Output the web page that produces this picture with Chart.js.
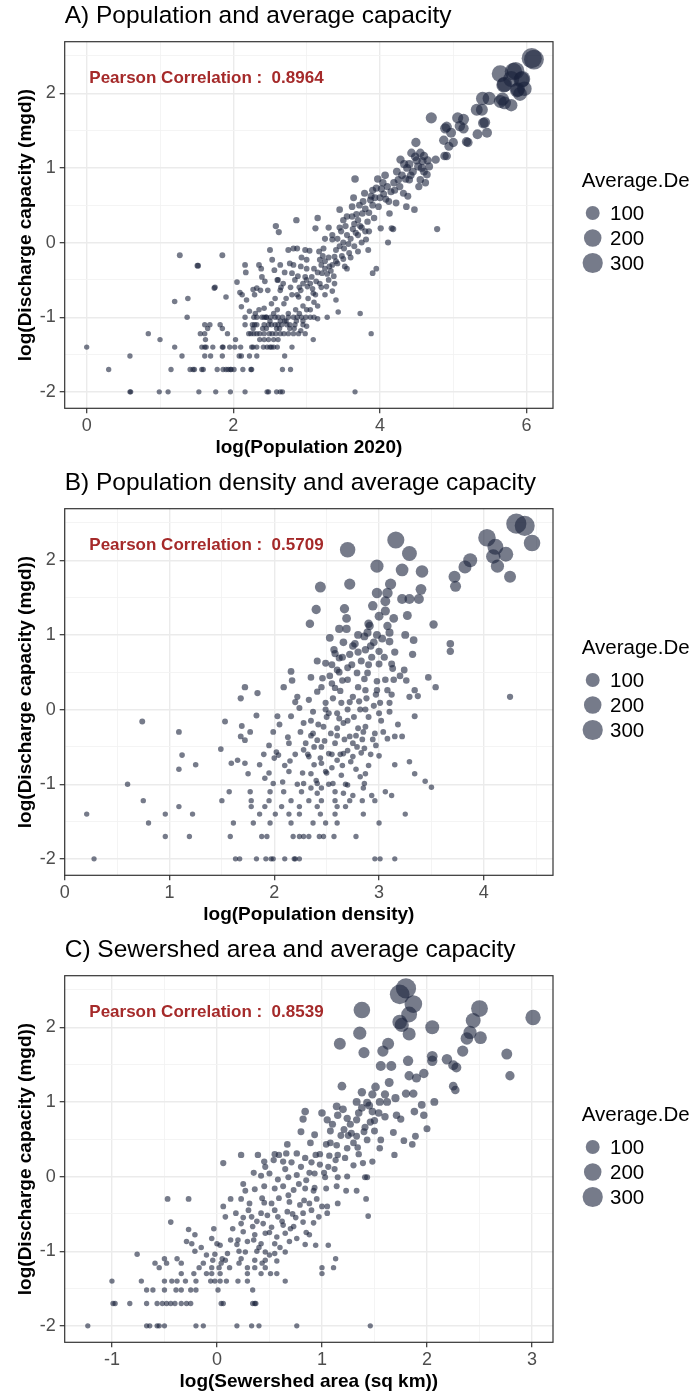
<!DOCTYPE html>
<html>
<head>
<meta charset="utf-8">
<script src="https://cdn.jsdelivr.net/npm/chart.js@4.4.1/dist/chart.umd.min.js"></script>
<style>
  html, body { margin: 0; padding: 0; background: #fff; overflow: hidden; }
  .panel { position: absolute; left: 0; width: 691px; height: 467px; }
</style>
</head>
<body>
<div class="panel" style="top:0"><canvas id="chartA" width="691" height="467"></canvas></div>
<div class="panel" style="top:467px"><canvas id="chartB" width="691" height="467"></canvas></div>
<div class="panel" style="top:934px"><canvas id="chartC" width="691" height="467"></canvas></div>
<script>
// --- Axis ticks, labels ---
const yTicks = [-2, -1, 0, 1, 2];
const yGrid = [-2, -1.5, -1, -0.5, 0, 0.5, 1, 1.5, 2, 2.5];
const popTicks = [0, 2, 4, 6];
const popGrid = [0, 1, 2, 3, 4, 5, 6];
const densTicks = [0, 1, 2, 3, 4];
const densGrid = [0, 0.5, 1, 1.5, 2, 2.5, 3, 3.5, 4, 4.5];
const areaTicks = [-1, 0, 1, 2, 3];
const areaGrid = [-1, -0.5, 0, 0.5, 1, 1.5, 2, 2.5, 3];
const legendValues = [100, 200, 300];
const correlations = [0.8964, 0.5709, 0.8539];
const panelTitles = [
  "A) Population and average capacity",
  "B) Population density and average capacity",
  "C) Sewershed area and average capacity"
];
const xTitles = ["log(Population 2020)", "log(Population density)", "log(Sewershed area (sq km))"];
const yTitle = "log(Discharge capacity (mgd))";

// --- Points: [x, log(Discharge capacity)] ---
const popData = [
  [0.59,-2],[0.6,-2],[0.99,-2],[1.11,-2],[1.53,-2],[1.76,-2],[1.96,-2],[2.16,-2],[2.46,-2],[2.48,-2],[2.59,-2],[2.64,-2],[2.67,-2],[3.66,-2],
  [0.3,-1.7],[1.15,-1.7],[1.41,-1.7],[1.45,-1.7],[1.47,-1.7],[1.57,-1.7],[1.59,-1.7],[1.78,-1.7],[1.86,-1.7],[1.9,-1.7],[1.93,-1.7],[1.96,-1.7],[1.97,-1.7],[2.01,-1.7],[2.13,-1.7],[2.24,-1.7],[2.25,-1.7],[2.67,-1.7],[2.78,-1.7],
  [0.59,-1.52],[1.3,-1.52],[1.61,-1.52],[1.69,-1.52],[1.85,-1.52],[2.08,-1.52],[2.11,-1.52],[2.22,-1.52],[2.32,-1.52],[2.7,-1.52],
  [0,-1.4],[1.2,-1.4],[1.57,-1.4],[1.61,-1.4],[1.63,-1.4],[1.72,-1.4],[1.85,-1.4],[1.86,-1.4],[1.95,-1.4],[2.02,-1.4],[2.1,-1.4],[2.25,-1.4],[2.27,-1.4],[2.32,-1.4],[2.41,-1.4],[2.46,-1.4],[2.5,-1.4],[2.52,-1.4],[2.55,-1.4],[2.6,-1.4],[2.8,-1.4],
  [1,-1.3],[1.62,-1.3],[2.03,-1.3],[2.36,-1.3],[2.42,-1.3],[2.48,-1.3],[2.55,-1.3],[2.61,-1.3],[3.09,-1.3],
  [0.84,-1.22],[1.55,-1.22],[1.61,-1.22],[1.92,-1.22],[2.21,-1.22],[2.24,-1.22],[2.28,-1.22],[2.32,-1.22],[2.36,-1.22],[2.42,-1.22],[2.49,-1.22],[2.53,-1.22],[2.58,-1.22],[2.64,-1.22],[2.69,-1.22],[2.75,-1.22],[2.82,-1.22],[2.89,-1.22],[2.98,-1.22],[3.88,-1.22],
  [1.65,-1.15],[1.85,-1.15],[2.27,-1.15],[2.4,-1.15],[2.45,-1.15],[2.59,-1.15],[2.63,-1.15],[2.77,-1.15],[2.83,-1.15],
  [1.61,-1.1],[1.68,-1.1],[1.82,-1.1],[2.16,-1.1],[2.26,-1.1],[2.29,-1.1],[2.32,-1.1],[2.42,-1.1],[2.48,-1.1],[2.52,-1.1],[2.57,-1.1],[2.61,-1.1],[2.66,-1.1],[2.73,-1.1],[2.77,-1.1],[2.84,-1.1],
  [2.5,-1.05],[2.64,-1.05],[2.72,-1.05],[2.86,-1.05],[2.95,-1.05],
  [1.37,-1],[2.16,-1],[2.28,-1],[2.32,-1],[2.39,-1],[2.42,-1],[2.45,-1],[2.51,-1],[2.57,-1],[2.61,-1],[2.67,-1],[2.75,-1],[2.82,-1],[2.87,-1],[2.93,-1],[2.99,-1],[3.1,-1],[3.28,-1],
  [1.38,-0.75],[1.2,-0.79],[1.27,-0.17],[1.51,-0.31],[1.52,-0.31],[1.85,-0.17],[1.75,-0.6],[1.74,-0.61],[1.9,-0.73],[2.05,-0.53],[2.11,-0.86],[2.09,-0.67],[2.12,-0.7],[2.16,-0.3],[2.17,-0.4],[2.18,-0.77],[2.29,-0.7],[2.27,-0.63],[2.32,-0.61],[2.35,-0.3],[2.38,-0.35],[2.37,-0.64],[2.39,-0.46],[2.43,-0.52],[2.47,-0.64],[2.5,-0.1],[2.53,-0.23],[2.58,0.22],[2.62,0.14],[2.86,0.3],[2.64,-0.3],[2.56,-0.37],[2.61,-0.5],[2.64,-0.64],[2.57,-0.75],[2.65,-0.6],[2.69,-0.82],[2.75,-0.1],[2.82,-0.08],[2.87,-0.08],[2.77,-0.28],[2.8,-0.41],[2.84,-0.5],[2.87,-0.7],[2.89,-0.73],[2.92,-0.64],[2.98,-0.1],[3,-0.23],
  [2.92,-0.32],[2.98,-0.46],[3.01,-0.59],[3.04,-0.11],[3.07,-0.46],[3.09,-0.68],[3.12,0.19],[3.15,0.33],[3.18,-0.23],[3.21,-0.41],[3.23,-0.08],[3.27,-0.59],[3.31,-0.32],[3.35,0.04],[3.38,-0.19],[3.4,-0.77],[3.43,-0.93],[3.45,0.44],[3.47,0.15],[3.51,-0.08],[3.52,-0.32],[3.55,0.35],[3.58,-0.14],[3.62,0.48],[3.64,0.6],[3.66,0.85],[3.67,0.13],[3.7,-0.12],[3.73,-0.95],[3.73,0.22],[3.76,0.39],[3.79,0.66],[3.81,0.04],[3.84,-0.1],[3.87,0.57],[3.9,-0.41],[3.95,-0.35],[3.92,0.33],[3.95,0.73],[3.98,0.48],[4.01,0.19],[4.04,0.8],[4.08,0.58],[4.11,0],[4.13,0.39],[4.16,0.19],[4.18,0.18],[4.19,0.8],[4.22,0.53],[4.25,0.84],[4.28,1.11],[4.32,0.66],[4.36,0.48],[4.37,1],[4.4,0.84],[4.43,1.2],[4.47,0.44],[4.49,1.34],[4.52,1.02],[4.55,0.84],[4.58,1.09],[4.6,1.16],[4.62,0.8],[4.64,0.91],[4.67,1.02],[4.7,1.67],[4.76,1.11],[4.78,0.18],
  [2.95,-0.55],[3,-0.5],[3.05,-0.55],[3.1,-0.35],[3.15,-0.4],[3.2,-0.3],[3.25,-0.25],[3.3,-0.2],[3.35,-0.3],[3.4,-0.1],[3.45,-0.05],[3.5,0],[3.55,0.1],[3.6,0.05],[3.65,0.25],[3.7,0.3],[3.75,0.2],[3.8,0.45],[3.85,0.4],[3.9,0.5],[3.1,-0.8],[3.15,-0.85],[3.2,-0.6],[3.3,-0.5],[3.35,-0.65],[2.9,-0.95],[2.85,-0.9],[2.95,-1.1],[3,-0.9],[3.05,-1],[2.75,-0.95],[2.7,-1.05],[3.25,-0.35],[3.4,-0.25],[3.55,-0.35],[3.6,-0.2],[3.45,0.2],[3.65,-0.05],[3.7,0.1],[3.8,0.15],[3.9,0.7],[4,0.6],[4.05,0.65],[4.1,0.75],[4.2,0.7],[4.3,0.9],[4.35,0.85],[4.45,0.95],[4.5,1.1],[4.6,0.95],[4.65,1.1],[4.55,1.2],[4.4,1.05],[3.5,0.3],[3.35,0.1],[3.25,0.05],[2.6,-0.5],[2.7,-0.4],[2.8,-0.7],[2.55,-0.95],[2.45,-1],[2.35,-0.9],[2.6,-0.9],
  [3.02,-0.75],[3.08,-0.62],[3.13,-0.52],[3.17,-0.12],[3.22,-0.18],[3.28,-0.42],[3.33,-0.38],[3.37,-0.45],[3.42,-0.28],[3.48,-0.18],[3.53,0.22],[3.57,-0.02],[3.63,0.18],[3.68,0.38],[3.72,0.5],[3.77,0.55],[3.83,0.28],[3.88,0.62],[3.93,0.6],[3.97,0.85],[4.02,0.72],[4.07,0.9],[4.12,0.55],[4.15,0.68],[4.23,0.95],[4.27,0.75],[4.33,1.05],[4.38,0.62],[4.42,0.9],[4.48,1.15],[4.53,0.75],[4.57,1],[2.9,-0.6],[2.95,-0.85],[3.05,-0.9],[3.12,-0.7],[3.18,-0.55],[3.25,-0.7],[2.88,-0.45],[2.93,-0.2],[2.82,-0.3],[2.78,-0.6],[2.72,-0.75],[2.68,-0.55],[3,-0.35],[3.3,0.2],[3.42,0.05],[3.5,-0.22],[3.62,0.35],[3.75,0],[3.85,0.15],[2.52,-0.82],[2.42,-0.88],[2.3,-0.95],[2.22,-0.92],[3.38,-0.55],[3.15,-1.02],[3,-1.12],[2.92,-1.18],
  [4.91,1.16],[4.91,1.55],[4.94,1.29],[4.97,1.47],[5,1.34],[5.06,1.67],[5.09,1.56],[5.14,1.65],[5.2,1.34],[5.33,1.45],[5.32,1.78],[5.4,1.93],[5.43,1.61],[5.46,1.47],[5.49,1.93],[4.88,1.16],[4.87,1.37],[4.89,1.53],[5.14,1.53],[5.39,1.78],[5.41,1.6],[5.18,1.35],
  [5.67,1.92],[5.7,1.87],[5.79,1.84],[5.64,1.89],[5.64,2.26],[5.7,2.12],[5.69,2.11],[5.79,2.19],[5.82,2.29],[5.85,2.3],[5.87,2.04],[5.88,2.05],[5.91,1.99],[5.94,2.19],[5.93,2.18],[5.97,2.06],[6.07,2.47],[6.1,2.45]
];

const densData = [
  [4.31,2.49],[4.39,2.46],[4.46,2.23],[4.03,2.3],[4.11,2.18],[4.09,2.05],[4.21,2.08],[4.13,1.92],[4.25,1.78],[3.87,2],[3.82,1.91],[3.72,1.78],[3.73,1.65],[3.68,0.88],[3.68,0.78],[4.25,0.17],
  [3.16,2.27],[3.29,2.09],[2.7,2.14],[2.98,1.92],[3.22,1.87],[3.41,1.85],[2.44,1.64],[2.72,1.68],[3.11,1.68],[3.4,1.61],[2.98,1.56],[3.08,1.56],[3.22,1.48],[3.29,1.48],[3.38,1.48],[3.06,1.45],[2.4,1.34],[2.67,1.35],[2.94,1.39],[3.06,1.32],[3.27,1.26],[2.34,1.15],[2.69,1.22],[3.14,1.22],[3.52,1.14],
  [2.62,1.08],[2.69,1.08],[2.91,1.12],[2.89,1.03],[3.08,1.12],[3.1,1.03],[3.25,1],[2.53,0.96],[2.77,0.88],[2.86,0.98],[2.98,1],[3.03,0.95],[3.1,0.91],[3.33,0.93],[2.57,0.8],[2.62,0.69],[2.72,0.74],[2.8,0.77],[2.92,0.85],[3,0.78],[3.15,0.77],[3.32,0.74],
  [2.41,0.65],[2.49,0.62],[2.6,0.53],[2.7,0.56],[2.79,0.49],[2.89,0.49],[3,0.61],[3.12,0.61],[3.24,0.53],[2.16,0.51],[2.35,0.43],[2.46,0.42],[2.55,0.35],[2.65,0.39],[2.86,0.41],[2.98,0.38],[3.14,0.4],[3.26,0.39],[3.47,0.43],[2.17,0.39],
  [1.72,0.3],[1.84,0.22],[1.68,0.15],[2.09,0.3],[2.22,0.17],[2.41,0.24],[2.58,0.29],[2.75,0.17],[2.87,0.26],[2.98,0.26],[3.08,0.26],[3.34,0.26],[3.54,0.3],[3.29,0.17],[3.37,0.18],[2.33,0.13],[2.49,0.09],[2.64,0.09],[2.81,0.11],[3.01,0.09],[3.1,0.09],
  [2.03,-0.09],[2.16,-0.09],[2.24,0.02],[2.37,-0.03],[2.49,0],[2.7,0],[2.87,0],[3.1,-0.03],[3.34,-0.09],[1.83,-0.08],[1.69,-0.22],[1.53,-0.16],[0.74,-0.16],[1.09,-0.3],[1.77,-0.3],[1.99,-0.3],[1.68,-0.36],[1.72,-0.41],[1.95,-0.48],[2.13,-0.37],[2.14,-0.45],
  [2.28,-0.18],[2.37,-0.32],[2.41,-0.41],[2.47,-0.23],[2.54,-0.32],[2.58,-0.45],[2.66,-0.18],[2.72,-0.36],[2.79,-0.5],[2.87,-0.23],[2.96,-0.32],[3.04,-0.3],[3.15,-0.36],[3.22,-0.36],[2.86,-0.52],[2.97,-0.48],[3.08,-0.39],
  [1.49,-0.53],[2.02,-0.57],[2.04,-0.61],[1.12,-0.61],[1.65,-0.68],[1.59,-0.72],[1.72,-0.72],[1.86,-0.74],[2.15,-0.69],[2.28,-0.54],[2.33,-0.63],[2.38,-0.74],[2.45,-0.72],[2.52,-0.59],[2.6,-0.68],[2.66,-0.59],[2.75,-0.63],[2.83,-0.58],[3,-0.62],[3.15,-0.74],[3.29,-0.7],[3.34,-0.86],
  [1.25,-0.74],[1.09,-0.8],[1.75,-0.86],[1.95,-0.85],[2.14,-0.83],[2.35,-0.86],[2.49,-0.83],[2.64,-0.88],[2.87,-0.86],[3.44,-0.96],[3.5,-1.04],[0.6,-1],[1.91,-0.92],[1.99,-0.99],[2.08,-0.97],[2.28,-0.99],[2.41,-0.99],[2.56,-0.99],[2.7,-1.01],[2.86,-0.99],
  [1.57,-1.1],[1.77,-1.1],[1.96,-1.1],[2.09,-1.1],[2.26,-1.1],[2.41,-1.12],[2.66,-1.12],[2.93,-1.15],[3.06,-1.1],[3.12,-1.15],
  [1.5,-1.22],[0.75,-1.22],[1.78,-1.22],[1.95,-1.22],[2.16,-1.22],[2.33,-1.22],[2.45,-1.22],[2.58,-1.22],[2.72,-1.22],[2.84,-1.22],[2.96,-1.22],
  [1.78,-1.3],[1.09,-1.3],[1.91,-1.3],[2.07,-1.3],[2.24,-1.3],[2.41,-1.3],[2.6,-1.3],[2.68,-1.3],
  [0.21,-1.4],[0.96,-1.4],[1.22,-1.4],[1.86,-1.4],[2.01,-1.4],[2.14,-1.4],[2.24,-1.4],[2.44,-1.4],[2.58,-1.4],[2.85,-1.4],[3.25,-1.4],
  [0.8,-1.52],[1.61,-1.52],[1.8,-1.52],[1.96,-1.52],[2.16,-1.52],[2.37,-1.52],[2.49,-1.52],[2.6,-1.52],[3,-1.52],
  [0.96,-1.7],[1.19,-1.7],[1.58,-1.7],[1.88,-1.7],[1.93,-1.7],[2.18,-1.7],[2.24,-1.7],[2.28,-1.7],[2.33,-1.7],[2.43,-1.7],[2.47,-1.7],[2.57,-1.7],[2.78,-1.7],
  [0.28,-2],[1.63,-2],[1.67,-2],[1.83,-2],[1.92,-2],[1.97,-2],[1.99,-2],[2.1,-2],[2.19,-2],[2.2,-2],[2.24,-2],[2.96,-2],[3.01,-2],[3.15,-2],
  [2.5,-0.1],[2.6,-0.05],[2.7,-0.15],[2.8,-0.25],[2.55,-0.6],[2.65,-0.75],[2.75,-0.45],[2.85,-0.3],[2.9,-0.1],[2.95,0.05],[2.45,-0.5],[2.35,-0.15],[2.3,-0.45],[2.62,0.5],[2.7,0.4],[2.8,0.3],[2.9,0.6],[2.75,0.85],[2.95,0.9],[2.65,0.7],[2.55,0.6],[2.6,-0.35],[2.7,-0.55],[2.5,-0.85],[2.4,-0.95],[2.78,-0.8],[2.68,-1],[2.58,-1.1],
  [2.25,-0.3],[2.32,-0.6],[2.42,-0.2],[2.48,-0.42],[2.52,-0.05],[2.56,0.15],[2.6,-0.25],[2.63,0.25],[2.67,-0.4],[2.72,0.1],[2.76,-0.1],[2.82,0],[2.84,-0.4],[2.88,0.15],[2.92,-0.6],[2.97,0.2],[3.02,-0.15],[3.06,0.4],[3.12,0.2],[3.18,-0.2],[2.45,0.3],[2.53,0.45],[2.58,0.75],[2.66,0.9],[2.74,0.6],[2.83,0.65],[2.87,0.8],[2.93,0.7],[3.05,0.7],[3.2,0.45],
  [2.38,-0.5],[2.44,-0.65],[2.55,-0.78],[2.63,-0.6],[2.73,-0.7],[2.82,-0.9],[2.9,-0.75],[2.35,-0.35],[2.2,-0.6],[2.1,-0.75],[2.05,-0.2],[2.2,0.1],[2,-0.65],[1.9,-0.6],[2.27,-0.85],[2.62,-0.12],[2.78,-0.35],[2.94,-0.4],[3,-0.05],[3.13,0.55],[2.45,-1.05],[2.52,-1],[2.35,-1.05],[2.75,-1.15],[2.85,-1.05],[2.22,-1],[2.9,1.15],[3,1.25],[2.8,1]
];

const areaData = [
  [1.8,2.52],[1.74,2.44],[1.87,2.31],[1.83,2.17],[1.74,2.07],[1.76,2.03],[1.83,1.91],[1.38,2.23],[1.36,1.92],[2.05,2],[2.5,2.25],[2.44,2.09],[2.41,1.93],[2.38,1.85],[2.51,1.86],[3.01,2.13],
  [1.17,1.78],[1.63,1.78],[1.4,1.66],[1.58,1.68],[2.34,1.68],[2.76,1.64],[2.05,1.61],[2.05,1.55],[2.19,1.57],[1.82,1.55],[1.56,1.48],[1.66,1.48],[2.25,1.49],[2.28,1.46],[1.97,1.38],[1.83,1.35],[1.9,1.32],[2.79,1.35],
  [1.64,1.26],[1.19,1.21],[1.51,1.2],[2.25,1.21],[2.27,1.16],[1.38,1.13],[1.48,1.1],[1.6,1.1],[1.8,1.11],[1.87,1.11],[1.33,1],[1.43,0.99],[1.62,1],[1.95,0.96],[2.07,1],[1.14,0.94],[1.38,0.92],[1.48,0.87],[1.54,0.85],
  [0.84,0.87],[1,0.85],[0.82,0.77],[1.05,0.76],[1.15,0.82],[1.24,0.78],[1.33,0.76],[1.46,0.73],[1.71,0.82],[1.75,0.77],[1.88,0.87],[1.97,0.82],[2,0.64],
  [0.8,0.6],[0.93,0.56],[1.08,0.61],[1.21,0.63],[1.28,0.58],[1.33,0.54],[1.41,0.66],[1.5,0.61],[1.68,0.59],[1.78,0.48],[1.89,0.54],[1.86,0.43],
  [0.67,0.43],[0.89,0.45],[1.04,0.43],[1.14,0.42],[1.24,0.38],[1.34,0.39],[1.56,0.49],[1.43,0.49],[0.59,0.29],[0.66,0.31],[0.76,0.31],[0.84,0.25],[0.94,0.29],[1.07,0.28],[1.15,0.29],[1.55,0.38],[1.69,0.29],[0.23,0.29],[0.39,0.29],
  [0.06,0.18],[0.46,0.13],[0.54,0.22],[0.63,0.2],[0.71,0.19],[0.8,0.13],[0.9,0.19],[0.98,0.16],[1.06,0.13],[1.13,0.22],[1.39,0.18],[1.48,0.2],
  [0.42,0.01],[0.5,0.04],[0.58,-0.04],[0.68,-0.01],[0.76,0.02],[0.85,-0.05],[0.93,0.04],[1.03,-0.01],[1.15,-0.01],[1.24,0],[1.41,-0.01],[1.43,-0.01],
  [0.27,-0.19],[0.36,-0.17],[0.45,-0.13],[0.55,-0.16],[0.63,-0.13],[0.73,-0.18],[0.84,-0.16],[0.92,-0.19],[1.04,-0.16],[1.14,-0.13],[1.23,-0.19],[1.33,-0.19],
  [0.13,-0.3],[-0.47,-0.3],[-0.27,-0.3],[0.23,-0.3],[0.31,-0.36],[0.43,-0.29],[0.52,-0.36],[0.59,-0.29],[0.69,-0.34],[0.79,-0.38],[0.88,-0.36],[1.05,-0.4],[1.15,-0.36],[1.42,-0.3],
  [0.06,-0.4],[0.08,-0.54],[0.18,-0.49],[0.33,-0.54],[0.42,-0.49],[0.48,-0.52],[0.58,-0.54],[0.67,-0.47],[0.82,-0.49],[0.97,-0.54],[1.05,-0.49],[1.44,-0.53],
  [-0.44,-0.61],[0.23,-0.63],[0.34,-0.67],[0.44,-0.63],[0.52,-0.68],[0.63,-0.65],[0.73,-0.67],[0.82,-0.61],[0.92,-0.62],[-0.03,-0.7],[-0.27,-0.71],
  [0.25,-0.74],[0.36,-0.78],[0.46,-0.76],[0.57,-0.81],[0.65,-0.76],[0.76,-0.83],[0.88,-0.78],[-0.21,-0.78],[-0.29,-0.87],[-0.24,-0.9],[-0.05,-0.83],[0.13,-0.85],[0.19,-0.91],[0.29,-0.87],[0.42,-0.9],[0.55,-0.9],[0.69,-0.87],[0.84,-0.91],[0.94,-0.92],[1.06,-0.92],
  [-0.21,-1],[0.03,-0.92],[0.1,-1.03],[0.21,-1],[0.27,-1.01],[0.38,-1],[0.46,-1.01],[0.55,-1.03],[0.65,-1.01],[-0.76,-1.04],[-0.02,-1.04],
  [-0.5,-1.1],[-0.38,-1.1],[-0.04,-1.12],[0.08,-1.12],[0.23,-1.1],[0.36,-1.12],[0.46,-1.12],[0.57,-1.13],[1.13,-1.1],
  [-0.59,-1.16],[-0.48,-1.16],[-0.34,-1.16],[-0.13,-1.16],[0.04,-1.16],[0.21,-1.16],[0.43,-1.16],
  [-0.55,-1.22],[-0.17,-1.22],[-0.05,-1.22],[0.02,-1.22],[0.12,-1.22],[0.29,-1.22],[0.36,-1.22],[0.46,-1.22],[1,-1.22],[1.11,-1.22],
  [-0.34,-1.3],[-0.22,-1.3],[-0.1,-1.3],[-0.05,-1.3],[0.03,-1.3],[0.29,-1.3],[0.42,-1.3],[0.51,-1.3],[0.57,-1.3],[1,-1.3],
  [-1,-1.4],[-0.72,-1.4],[-0.5,-1.4],[-0.43,-1.4],[-0.38,-1.4],[-0.3,-1.4],[-0.2,-1.4],[-0.06,-1.4],[-0.02,-1.4],[0.03,-1.4],[0.09,-1.4],[0.2,-1.4],[0.29,-1.4],[0.65,-1.4],
  [-0.67,-1.52],[-0.61,-1.52],[-0.5,-1.52],[-0.39,-1.52],[-0.34,-1.52],[-0.25,-1.52],[-0.2,-1.52],[0.01,-1.52],[0.34,-1.52],
  [-0.99,-1.7],[-0.97,-1.7],[-0.83,-1.7],[-0.67,-1.7],[-0.57,-1.7],[-0.52,-1.7],[-0.48,-1.7],[-0.44,-1.7],[-0.4,-1.7],[-0.34,-1.7],[-0.29,-1.7],[-0.25,-1.7],[0.04,-1.7],[0.06,-1.7],[0.34,-1.7],[0.36,-1.7],[0.37,-1.7],
  [-1.23,-2],[-0.67,-2],[-0.64,-2],[-0.57,-2],[-0.55,-2],[-0.5,-2],[-0.2,-2],[-0.13,-2],[0.19,-2],[0.33,-2],[0.4,-2],[0.76,-2],[1.46,-2],
  [0.3,-0.45],[0.38,-0.6],[0.45,-0.35],[0.5,-0.75],[0.55,-0.45],[0.62,-0.6],[0.68,-0.25],[0.72,-0.5],[0.78,-0.1],[0.83,-0.32],[0.88,0.05],[0.93,-0.15],[0.98,0.3],[1.02,0.05],[1.08,0.45],[1.12,0.1],[1.18,0.55],[1.22,0.25],[1.27,0.7],[1.3,0.45],[1.35,0.85],[1.4,0.6],[1.45,0.95],[1.5,0.75],
  [0.15,-0.7],[0.2,-0.85],[0.25,-0.55],[0.35,-0.85],[0.4,-0.95],[0.5,-1.05],[0.6,-0.95],[0.7,-0.7],[0.75,-0.55],[0.85,-0.75],[0.9,-0.45],[0.95,-0.3],[1,-0.4],[0.65,0.1],[0.55,0.3],[0.45,0.2],[0.35,0.05],[0.25,-0.1],[0,-0.9],[-0.1,-1.05],[-0.15,-0.95],[0.05,-1.1],[1.1,0.7],[1.2,0.9],[1.25,0.55],[1.55,1],[1.6,0.8],[1.7,1.05],[1.3,0.15],[1.35,0.3]
];

// --- Styling ---
const fontFamily = '"Liberation Sans", Arial, sans-serif';
const pointColor = "rgba(27, 35, 60, 0.6)";

// ggplot style area scale for Average.De (size range 1..6), returned as radius in px
const maxAvg = 295;
function pointSize(avg) {
  const s = 1 + 5 * Math.sqrt(Math.min(avg, maxAvg) / maxAvg);
  return (3.0 * s + 2.2) / 2;
}

const framePlugin = {
  id: "frame",
  afterDraw(chart) {
    const { ctx, chartArea: a } = chart;
    ctx.save();
    ctx.strokeStyle = "#333333";
    ctx.lineWidth = 1.2;
    ctx.strokeRect(a.left, a.top, a.right - a.left, a.bottom - a.top);
    ctx.restore();
  }
};

const corrPlugin = {
  id: "corrLabel",
  afterDatasetsDraw(chart, args, opts) {
    const { ctx, chartArea, scales } = chart;
    ctx.save();
    ctx.font = "bold 17px " + fontFamily;
    ctx.fillStyle = "#A52A2A";
    ctx.textAlign = "left";
    ctx.textBaseline = "middle";
    ctx.fillText(opts.text, chartArea.left + 24.6, scales.y.getPixelForValue(2.2));
    ctx.restore();
  }
};

const sizeLegendPlugin = {
  id: "sizeLegend",
  afterDraw(chart, args, opts) {
    const { ctx, chartArea } = chart;
    const mid = (chartArea.top + chartArea.bottom) / 2;
    const left = chartArea.right + 28.7;
    ctx.save();
    ctx.textAlign = "left";
    ctx.textBaseline = "middle";
    ctx.fillStyle = "#000";
    ctx.font = "20.5px " + fontFamily;
    ctx.fillText(opts.title, left, mid - 43.3);
    legendValues.forEach((v, i) => {
      const cy = mid - 12 + i * 25;
      ctx.beginPath();
      ctx.arc(left + 11, cy, pointSize(v), 0, Math.PI * 2);
      ctx.fillStyle = pointColor;
      ctx.fill();
      ctx.fillStyle = "#000";
      ctx.fillText(String(v), left + 28.3, cy + 1);
    });
    ctx.restore();
  }
};

function gridStyle(majors) {
  const isMajor = (c) => c.tick && majors.includes(c.tick.value);
  return {
    color: (c) => (isMajor(c) ? "#EBEBEB" : "#F3F3F3"),
    lineWidth: (c) => (isMajor(c) ? 1.4 : 0.9),
    tickColor: (c) => (isMajor(c) ? "#333333" : "rgba(0,0,0,0)"),
    tickLength: 5,
    tickWidth: 1.2,
    drawTicks: true
  };
}

function makeChart(canvasId, cfg) {
  const points = cfg.data.map(([x, y]) => ({ x: x, y: y }));
  return new Chart(document.getElementById(canvasId), {
    type: "scatter",
    data: {
      datasets: [{
        data: points,
        backgroundColor: pointColor,
        borderWidth: 0,
        // Average.De tracks the plotted capacity, so the size comes from 10^y
        pointRadius: (c) => pointSize(Math.pow(10, c.raw.y)),
        pointHoverRadius: (c) => pointSize(Math.pow(10, c.raw.y))
      }]
    },
    options: {
      responsive: false,
      animation: false,
      devicePixelRatio: 1,
      layout: { padding: { left: 0, right: 138, top: 0, bottom: 0 }, autoPadding: false },
      plugins: {
        legend: { display: false },
        tooltip: { enabled: false },
        title: {
          display: true,
          text: cfg.title,
          align: "start",
          fullSize: false,
          color: "#000",
          font: { family: fontFamily, size: 24.5, weight: "normal" },
          padding: { top: 1.7, bottom: 10.6 }
        },
        corrLabel: { text: "Pearson Correlation :  " + cfg.r.toFixed(4) },
        sizeLegend: { title: "Average.De" }
      },
      scales: {
        x: {
          type: "linear",
          min: cfg.xMin,
          max: cfg.xMax,
          afterBuildTicks: (s) => { s.ticks = cfg.xGrid.map((v) => ({ value: v })); },
          afterFit: (s) => { s.height = 58.7; },
          grid: gridStyle(cfg.xTicks),
          border: { display: false },
          ticks: {
            autoSkip: false,
            maxRotation: 0,
            padding: 2,
            color: "#4D4D4D",
            font: { family: fontFamily, size: 18 },
            callback: (v) => (cfg.xTicks.includes(v) ? String(v) : "")
          },
          title: {
            display: true,
            text: cfg.xTitle,
            color: "#000",
            font: { family: fontFamily, size: 19, weight: "bold" },
            padding: { top: 0, bottom: 7.6 }
          }
        },
        y: {
          type: "linear",
          min: -2.22,
          max: 2.69,
          afterBuildTicks: (s) => { s.ticks = yGrid.map((v) => ({ value: v })); },
          afterFit: (s) => { s.width = 64.7; },
          grid: gridStyle(yTicks),
          border: { display: false },
          ticks: {
            autoSkip: false,
            padding: 4,
            color: "#4D4D4D",
            font: { family: fontFamily, size: 18 },
            callback: (v) => (yTicks.includes(v) ? String(v) : "")
          },
          title: {
            display: true,
            text: yTitle,
            color: "#000",
            font: { family: fontFamily, size: 19, weight: "bold" },
            padding: { top: 14.1, bottom: 0 }
          }
        }
      }
    },
    plugins: [framePlugin, corrPlugin, sizeLegendPlugin]
  });
}

makeChart("chartA", {
  data: popData, title: panelTitles[0], xTitle: xTitles[0], r: correlations[0],
  xMin: -0.3, xMax: 6.36, xTicks: popTicks, xGrid: popGrid
});
makeChart("chartB", {
  data: densData, title: panelTitles[1], xTitle: xTitles[1], r: correlations[1],
  xMin: 0, xMax: 4.66, xTicks: densTicks, xGrid: densGrid
});
makeChart("chartC", {
  data: areaData, title: panelTitles[2], xTitle: xTitles[2], r: correlations[2],
  xMin: -1.45, xMax: 3.2, xTicks: areaTicks, xGrid: areaGrid
});
</script>
</body>
</html>
